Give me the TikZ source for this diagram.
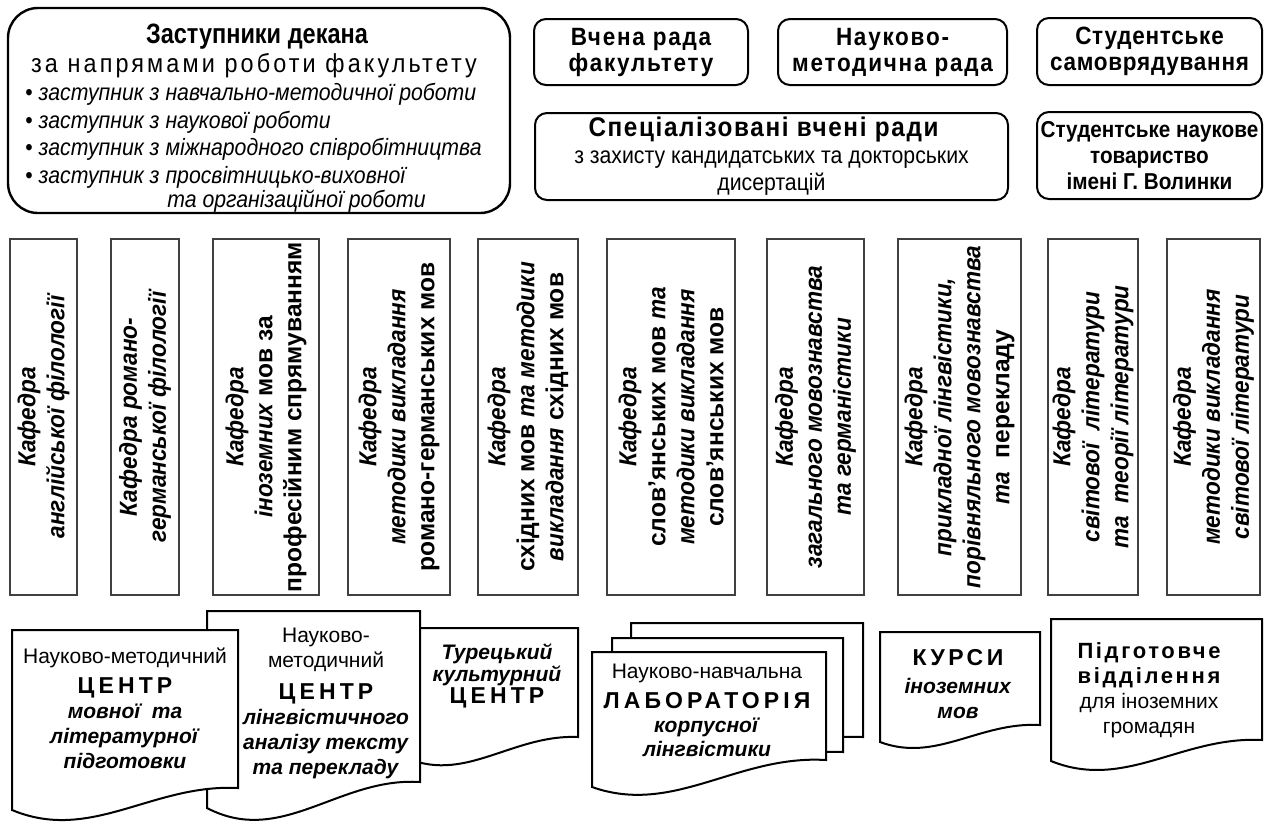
\documentclass[tikz,border=0pt]{standalone}
\usepackage{fontspec}
\setmainfont{Liberation Sans}
\newfontfamily\condf[FakeStretch=0.9]{Liberation Sans}
\newfontfamily\tallf[FakeStretch=0.9]{Liberation Sans}
\newfontfamily\headf[FakeStretch=0.84]{Liberation Sans}
\newfontfamily\itf[FakeStretch=0.92]{Liberation Sans}
\newcommand{\bfit}[1]{\textbf{\textit{#1}}}
\newcommand{\di}[1]{{\itf\itshape #1}}
\newcommand{\lsb}[2][20]{{\bfseries\addfontfeature{LetterSpace=#1}#2}}
% L, T, R, yL, yR, control-y near left
\newcommand{\docshape}[6]{\filldraw[doc] (#1,#2) -- (#3,#2) -- (#3,#5) .. controls ({#1+0.62*(#3-#1)},{#5-0.2*(#4-#5)}) and ({#1+0.35*(#3-#1)},{#6}) .. (#1,#4) -- cycle;}
\begin{document}
\begin{tikzpicture}[x=0.5pt,y=-0.5pt,
  rbox/.style={draw, line width=1pt, rounded corners=6pt, inner sep=0pt, align=center},
  topfont/.style={font=\tallf\fontsize{12.5}{13}\selectfont\bfseries\addfontfeature{LetterSpace=7}},
  dept/.style={draw=black!75, line width=0.8pt, inner sep=0pt, rotate=90, align=center,
    minimum width=178pt, font=\fontsize{12.3}{14.5}\selectfont\bfseries},
  doc/.style={draw, line width=1pt, fill=white},
  doctext/.style={align=center, inner sep=0pt, anchor=north, font=\fontsize{10.5}{12.5}\selectfont},
  ln/.style={inner sep=0pt, anchor=base west, font=\tallf\fontsize{11.8}{13}\selectfont},
]
\useasboundingbox (0,0) rectangle (1268,821);

% deputies box
\node[rbox, rounded corners=15pt, line width=1.2pt, minimum width=251pt, minimum height=102.5pt] (deputies) at (259,110.5) {};
\node[inner sep=0pt, anchor=base, font=\headf\fontsize{14}{15}\selectfont\bfseries] (dephead) at (257,43) {Заступники декана};
\node[inner sep=0pt, anchor=base, font=\tallf\fontsize{13}{14}\selectfont\addfontfeature{LetterSpace=12}] (depsub) at (254,72) {за напрямами роботи факультету};
\node[ln] (dl1) at (25,100) {• \textit{заступник з навчально-методичної роботи}};
\node[ln] (dl2) at (25,128) {• \textit{заступник з наукової роботи}};
\node[ln] (dl3) at (25,155) {• \textit{заступник з міжнародного співробітництва}};
\node[ln] (dl4) at (25,183) {• \textit{заступник з просвітницько-виховної}};
\node[ln] (dl5) at (167,207) {\textit{та організаційної роботи}};

% top right boxes
\node[rbox, topfont, minimum width=107pt, minimum height=33pt] (vr) at (641,52) {Вчена рада\\факультету};
\node[rbox, topfont, minimum width=114.5pt, minimum height=33pt] (nmr) at (892.5,52) {Науково-\\методична рада};
\node[rbox, minimum width=112.5pt, minimum height=33.5pt, font=\tallf\fontsize{12.5}{13}\selectfont\bfseries\addfontfeature{LetterSpace=3}] (ss) at (1149.5,51.5) {Студентське\\самоврядування};
\node[rbox, minimum width=236.5pt, minimum height=43.5pt, font=\fontsize{11.8}{13.5}\selectfont] (svr) at (771.5,156.5)
  {{\tallf\fontsize{13.5}{13.5}\selectfont\bfseries\addfontfeature{LetterSpace=6}Спеціалізовані вчені ради\hspace*{8pt}}\\{\condf з захисту кандидатських та докторських}\\{\condf дисертацій}};
\node[rbox, minimum width=112.5pt, minimum height=43.5pt, font=\fontsize{11.5}{13}\selectfont\bfseries\condf] (snt) at (1149.5,155.5)
  {Студентське наукове\\товариство\\імені Г. Волинки};

% departments
\node[dept, minimum height=33.5pt] (k1) at (43.5,417) {\di{Кафедра}\\\di{англійської філології}};
\node[dept, minimum height=34pt] (k2) at (145,417) {\di{Кафедра романо-}\\\di{германської філології}};
\node[dept, minimum height=53pt] (k3) at (266,417) {\di{Кафедра}\\\di{іноземних} мов за\\професійним спрямуванням};
\node[dept, minimum height=51pt] (k4) at (399,417) {\di{Кафедра}\\\di{методики викладання}\\романо-германських мов};
\node[dept, minimum height=50pt] (k5) at (528,417) {\di{Кафедра}\\східних мов \di{та методики}\\\di{викладання} східних мов};
\node[dept, minimum height=64pt] (k6) at (671,417) {\di{Кафедра}\\слов’янських мов \di{та}\\\di{методики викладання}\\слов’янських мов};
\node[dept, minimum height=48.5pt] (k7) at (815.5,417) {\di{Кафедра}\\\di{загального мовознавства}\\\di{та германістики}};
\node[dept, minimum height=61.5pt] (k8) at (959.5,417) {\di{Кафедра}\\\di{прикладної лінгвістики,}\\\di{порівняльного мовознавства}\\\di{та}\ \ перекладу};
\node[dept, minimum height=45pt] (k9) at (1093,417) {\di{Кафедра}\\\di{світової\ \ літератури}\\\di{та\ \ теорії літератури}};
\node[dept, minimum height=46.5pt] (k10) at (1213.5,417) {\di{Кафедра}\\\di{методики викладання}\\\di{світової літератури}};

% bottom document shapes
\docshape{395}{628}{578}{752}{737}{790}
\docshape{207}{611}{420}{808}{782}{847}
\docshape{12}{630}{238}{810}{788}{843}
\docshape{631}{623}{863}{750}{737}{767}
\docshape{612}{638}{843}{770}{752}{793}
\docshape{592}{652}{826}{787}{760}{816}
\docshape{880}{632}{1040}{742}{725}{763}
\docshape{1051}{619}{1262}{761}{740}{791}

\node[doctext] (cA) at (125,647) {Науково-методичний\\[2.5pt]\lsb[18]{\fontsize{11.5}{12.5}\selectfont ЦЕНТР}\\\bfit{мовної\ \ та}\\\bfit{літературної}\\\bfit{підготовки}};
\node[doctext] (cB) at (326,628) {Науково-\\методичний\\[3.5pt]\lsb[18]{\fontsize{11.5}{12.5}\selectfont ЦЕНТР}\\\bfit{лінгвістичного}\\\bfit{аналізу тексту}\\\bfit{та перекладу}};
\node[doctext, font=\fontsize{10.5}{11}\selectfont] (cC) at (497,643) {\bfit{Турецький}\\\bfit{культурний}\\\lsb[18]{\fontsize{11.5}{11}\selectfont ЦЕНТР}};
\node[doctext, font=\fontsize{10.5}{12}\selectfont] (lab) at (707,664) {Науково-навчальна\\[3pt]\lsb[18]{\fontsize{11.5}{12.5}\selectfont ЛАБОРАТОРІЯ}\\\bfit{корпусної}\\\bfit{лінгвістики}};
\node[doctext] (kursy) at (958,649) {\lsb[15]{\fontsize{11.5}{12.5}\selectfont КУРСИ}\\[1.5pt]\bfit{іноземних}\\\bfit{мов}};
\node[doctext] (pidg) at (1149,642) {\lsb[12]{\fontsize{11}{13}\selectfont Підготовче}\\\lsb[12]{\fontsize{11}{13}\selectfont відділення}\\для іноземних\\громадян};
\end{tikzpicture}
\end{document}
